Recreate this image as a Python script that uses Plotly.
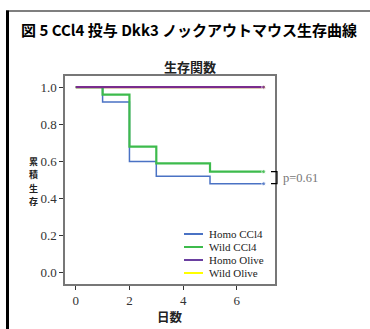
import plotly.graph_objects as go

# Kaplan-Meier survival data (days, cumulative survival)
series_names = ["Homo CCl4", "Wild CCl4", "Homo Olive", "Wild Olive"]
series_colors = ["#4a72c4", "#3dbb4c", "#7a2c8e", "#ffff00"]
series_widths = [1.5, 2.2, 2.2, 2.0]

days_homo_ccl4 = [0, 1, 2, 3, 5, 7]
surv_homo_ccl4 = [1.0, 0.92, 0.60, 0.52, 0.48, 0.48]

days_wild_ccl4 = [0, 1, 2, 3, 5, 7]
surv_wild_ccl4 = [1.0, 0.96, 0.68, 0.59, 0.545, 0.545]

days_homo_olive = [0, 7]
surv_homo_olive = [1.0, 1.0]

days_wild_olive = [0, 7]
surv_wild_olive = [1.0, 1.0]

x_ticks = [0, 2, 4, 6]
y_ticks = [0.0, 0.2, 0.4, 0.6, 0.8, 1.0]
y_tick_labels = ["0.0", "0.2", "0.4", "0.6", "0.8", "1.0"]
y_title_chars = ["累", "積", "生", "存"]
p_value_text = "p=0.61"

series_x = [days_homo_ccl4, days_wild_ccl4, days_homo_olive, days_wild_olive]
series_y = [surv_homo_ccl4, surv_wild_ccl4, surv_homo_olive, surv_wild_olive]

SERIF = "Liberation Serif, Times New Roman, serif"
CJK = "Noto Sans CJK JP, sans-serif"

fig = go.Figure()

# draw olive groups underneath so the purple line sits on top of the yellow one
draw_order = [3, 0, 1, 2]
for i in draw_order:
    xs, ys = series_x[i], series_y[i]
    sizes = [0] * (len(xs) - 1) + [4]
    fig.add_trace(go.Scatter(
        x=xs, y=ys, name=series_names[i],
        mode="lines+markers", line_shape="hv",
        line=dict(color=series_colors[i], width=series_widths[i]),
        marker=dict(size=sizes, color=series_colors[i]),
        showlegend=False, hoverinfo="skip",
    ))

W, H = 370, 329
ml, mr, mt, mb = 65, 95, 76, 45
pw, ph = W - ml - mr, H - mt - mb


def px_x(px):
    return (px - ml) / pw


def px_y(py):
    return 1 - (py - mt) / ph


shapes = []
# outer frame: thick left rule and thin top rule
shapes.append(dict(type="line", xref="paper", yref="paper",
                   x0=px_x(7.5), x1=px_x(7.5), y0=px_y(10.5), y1=px_y(H + 2),
                   line=dict(color="black", width=3)))
shapes.append(dict(type="line", xref="paper", yref="paper",
                   x0=px_x(6), x1=px_x(W + 2), y0=px_y(11), y1=px_y(11),
                   line=dict(color="black", width=1.2)))

# bracket linking the two CCl4 curve ends
y_top = surv_wild_ccl4[-1]
y_bot = surv_homo_ccl4[-1]
bx0, bx1 = px_x(271), px_x(277)
shapes.append(dict(type="path", xref="paper", yref="y",
                   path=f"M {bx0},{y_top} L {bx1},{y_top} L {bx1},{y_bot} L {bx0},{y_bot}",
                   line=dict(color="black", width=1.2)))

annotations = []
annotations.append(dict(text=p_value_text, xref="paper", yref="y",
                        x=px_x(281), y=(y_top + y_bot) / 2, xanchor="left", yanchor="middle",
                        showarrow=False, font=dict(family=SERIF, size=12.5, color="#777")))

# legend drawn as short line samples with labels, one row every 13 px
legend_rows_px = [234, 247, 260, 273]
for i, name in enumerate(series_names):
    ly = px_y(legend_rows_px[i])
    shapes.append(dict(type="line", xref="paper", yref="paper",
                       x0=px_x(184), x1=px_x(203), y0=ly, y1=ly,
                       line=dict(color=series_colors[i] if i != 2 else "#6a3fa0", width=2)))
    annotations.append(dict(text=name, xref="paper", yref="paper",
                            x=px_x(208), y=ly, xanchor="left", yanchor="middle",
                            showarrow=False, borderpad=0,
                            font=dict(family=SERIF, size=11, color="#222")))

# figure caption
annotations.append(dict(text="<b>図 5 CCl4 投与 Dkk3 ノックアウトマウス生存曲線</b>",
                        xref="paper", yref="paper", x=px_x(19), y=px_y(30),
                        xanchor="left", yanchor="middle", showarrow=False,
                        font=dict(family=CJK, size=15, color="black")))
# panel title
annotations.append(dict(text="<b>生存関数</b>", xref="paper", yref="paper",
                        x=px_x(190), y=px_y(67), xanchor="center", yanchor="middle",
                        showarrow=False, font=dict(family=CJK, size=13, color="#222")))
# stacked y-axis title, one character per line
for k, ch in enumerate(y_title_chars):
    annotations.append(dict(text=f"<b>{ch}</b>", xref="paper", yref="paper",
                            x=px_x(33), y=px_y(161 + 13.5 * k), xanchor="center", yanchor="middle",
                            showarrow=False, borderpad=0,
                            font=dict(family=CJK, size=9, color="#222")))
# x-axis title
annotations.append(dict(text="<b>日数</b>", xref="paper", yref="paper",
                        x=px_x(170), y=px_y(316), xanchor="center", yanchor="middle",
                        showarrow=False, font=dict(family=CJK, size=12.5, color="#222")))

fig.update_layout(
    width=W, height=H,
    margin=dict(l=ml, r=mr, t=mt, b=mb),
    paper_bgcolor="white", plot_bgcolor="white",
    shapes=shapes, annotations=annotations,
    showlegend=False,
)
fig.update_xaxes(range=[-0.4, 7.42], tickvals=x_ticks, ticks="outside", ticklen=4,
                 tickcolor="#333", showgrid=False, zeroline=False,
                 showline=True, linecolor="#777", linewidth=1.5, mirror=True,
                 tickfont=dict(family=SERIF, size=13, color="#333"))
fig.update_yaxes(range=[-0.06, 1.06], tickvals=y_ticks, ticktext=y_tick_labels,
                 ticks="outside", ticklen=4, tickcolor="#333",
                 showgrid=False, zeroline=False,
                 showline=True, linecolor="#777", linewidth=1.5, mirror=True,
                 tickfont=dict(family=SERIF, size=13, color="#333"))

fig.write_html("out.html")
